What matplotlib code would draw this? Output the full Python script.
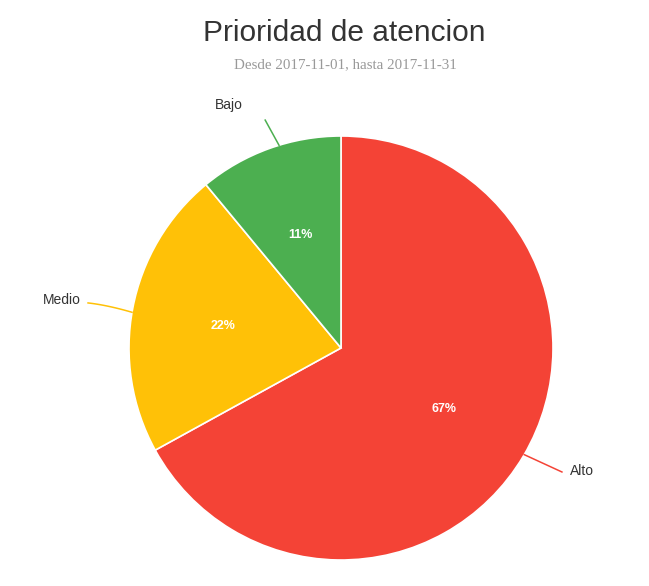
import numpy as np
import matplotlib.pyplot as plt

# priority shares (percent), drawn clockwise from 12 o'clock
labels = ["Alto", "Medio", "Bajo"]
values = [67, 22, 11]
colors = ["#F44336", "#FFC107", "#4CAF50"]
pct_labels = ["67%", "22%", "11%"]

W, H = 649, 586
CX, CY, R = 341, 348, 212  # pie centre / radius in pixels

fig = plt.figure(figsize=(W / 100, H / 100), dpi=100)
ax = fig.add_axes([0, 0, 1, 1])

wedges, texts = ax.pie(values, colors=colors, startangle=90, counterclock=False,
                       wedgeprops=dict(edgecolor="white", linewidth=1.2))

# axis limits chosen so one data unit == pie radius in pixels
ax.set_xlim(-CX / R, (W - CX) / R)
ax.set_ylim(-(H - CY) / R, CY / R)
ax.set_aspect("equal")
ax.axis("off")

# percentage labels inside the slices
for w, txt in zip(wedges, pct_labels):
    mid = np.deg2rad((w.theta1 + w.theta2) / 2)
    ax.text(0.565 * np.cos(mid), 0.565 * np.sin(mid), txt, color="white",
            fontsize=9, fontweight="bold", ha="center", va="center",
            family="Liberation Sans")

# connector layout per label:
# (start angle shift, end radius, end angle shift, text dx, text dy, ha, curved)
label_style = {
    "Alto": (0.4, 1.195, 1.3, 0.038, 0.005, "left", False),
    "Medio": (1.1, 1.212, 0.7, -0.033, 0.014, "right", True),
    "Bajo": (-2.8, 1.133, -1.4, -0.104, 0.071, "right", False),
}
for w, name, col in zip(wedges, labels, colors):
    mid_deg = (w.theta1 + w.theta2) / 2
    s0, r1, s1, dx, dy, ha, curved = label_style[name]
    a0 = np.deg2rad(mid_deg + s0)
    a1 = np.deg2rad(mid_deg + s1)
    p0 = np.array([np.cos(a0), np.sin(a0)])
    p1 = np.array([r1 * np.cos(a1), r1 * np.sin(a1)])
    if curved:
        # quadratic bezier, leaving the label horizontally
        ctrl = np.array([p1[0] + 0.09, p1[1] - 0.01])
        t = np.linspace(0, 1, 30)[:, None]
        pts = (1 - t) ** 2 * p1 + 2 * (1 - t) * t * ctrl + t ** 2 * p0
        ax.plot(pts[:, 0], pts[:, 1], color=col, lw=1.1)
    else:
        ax.plot([p0[0], p1[0]], [p0[1], p1[1]], color=col, lw=1.1)
    ax.text(p1[0] + dx, p1[1] + dy, name, fontsize=10, color="#333333",
            ha=ha, va="center", family="Liberation Sans")

fig.text(344 / W, 1 - 33 / H, "Prioridad de atencion", fontsize=21.5,
         color="#333333", ha="center", va="center", family="Liberation Sans")
fig.text(345 / W, 1 - 65 / H, "Desde 2017-11-01, hasta 2017-11-31", fontsize=10.8,
         color="#999999", ha="center", va="center", family="Liberation Serif")

fig.savefig("out.png", dpi=100, facecolor="white")
